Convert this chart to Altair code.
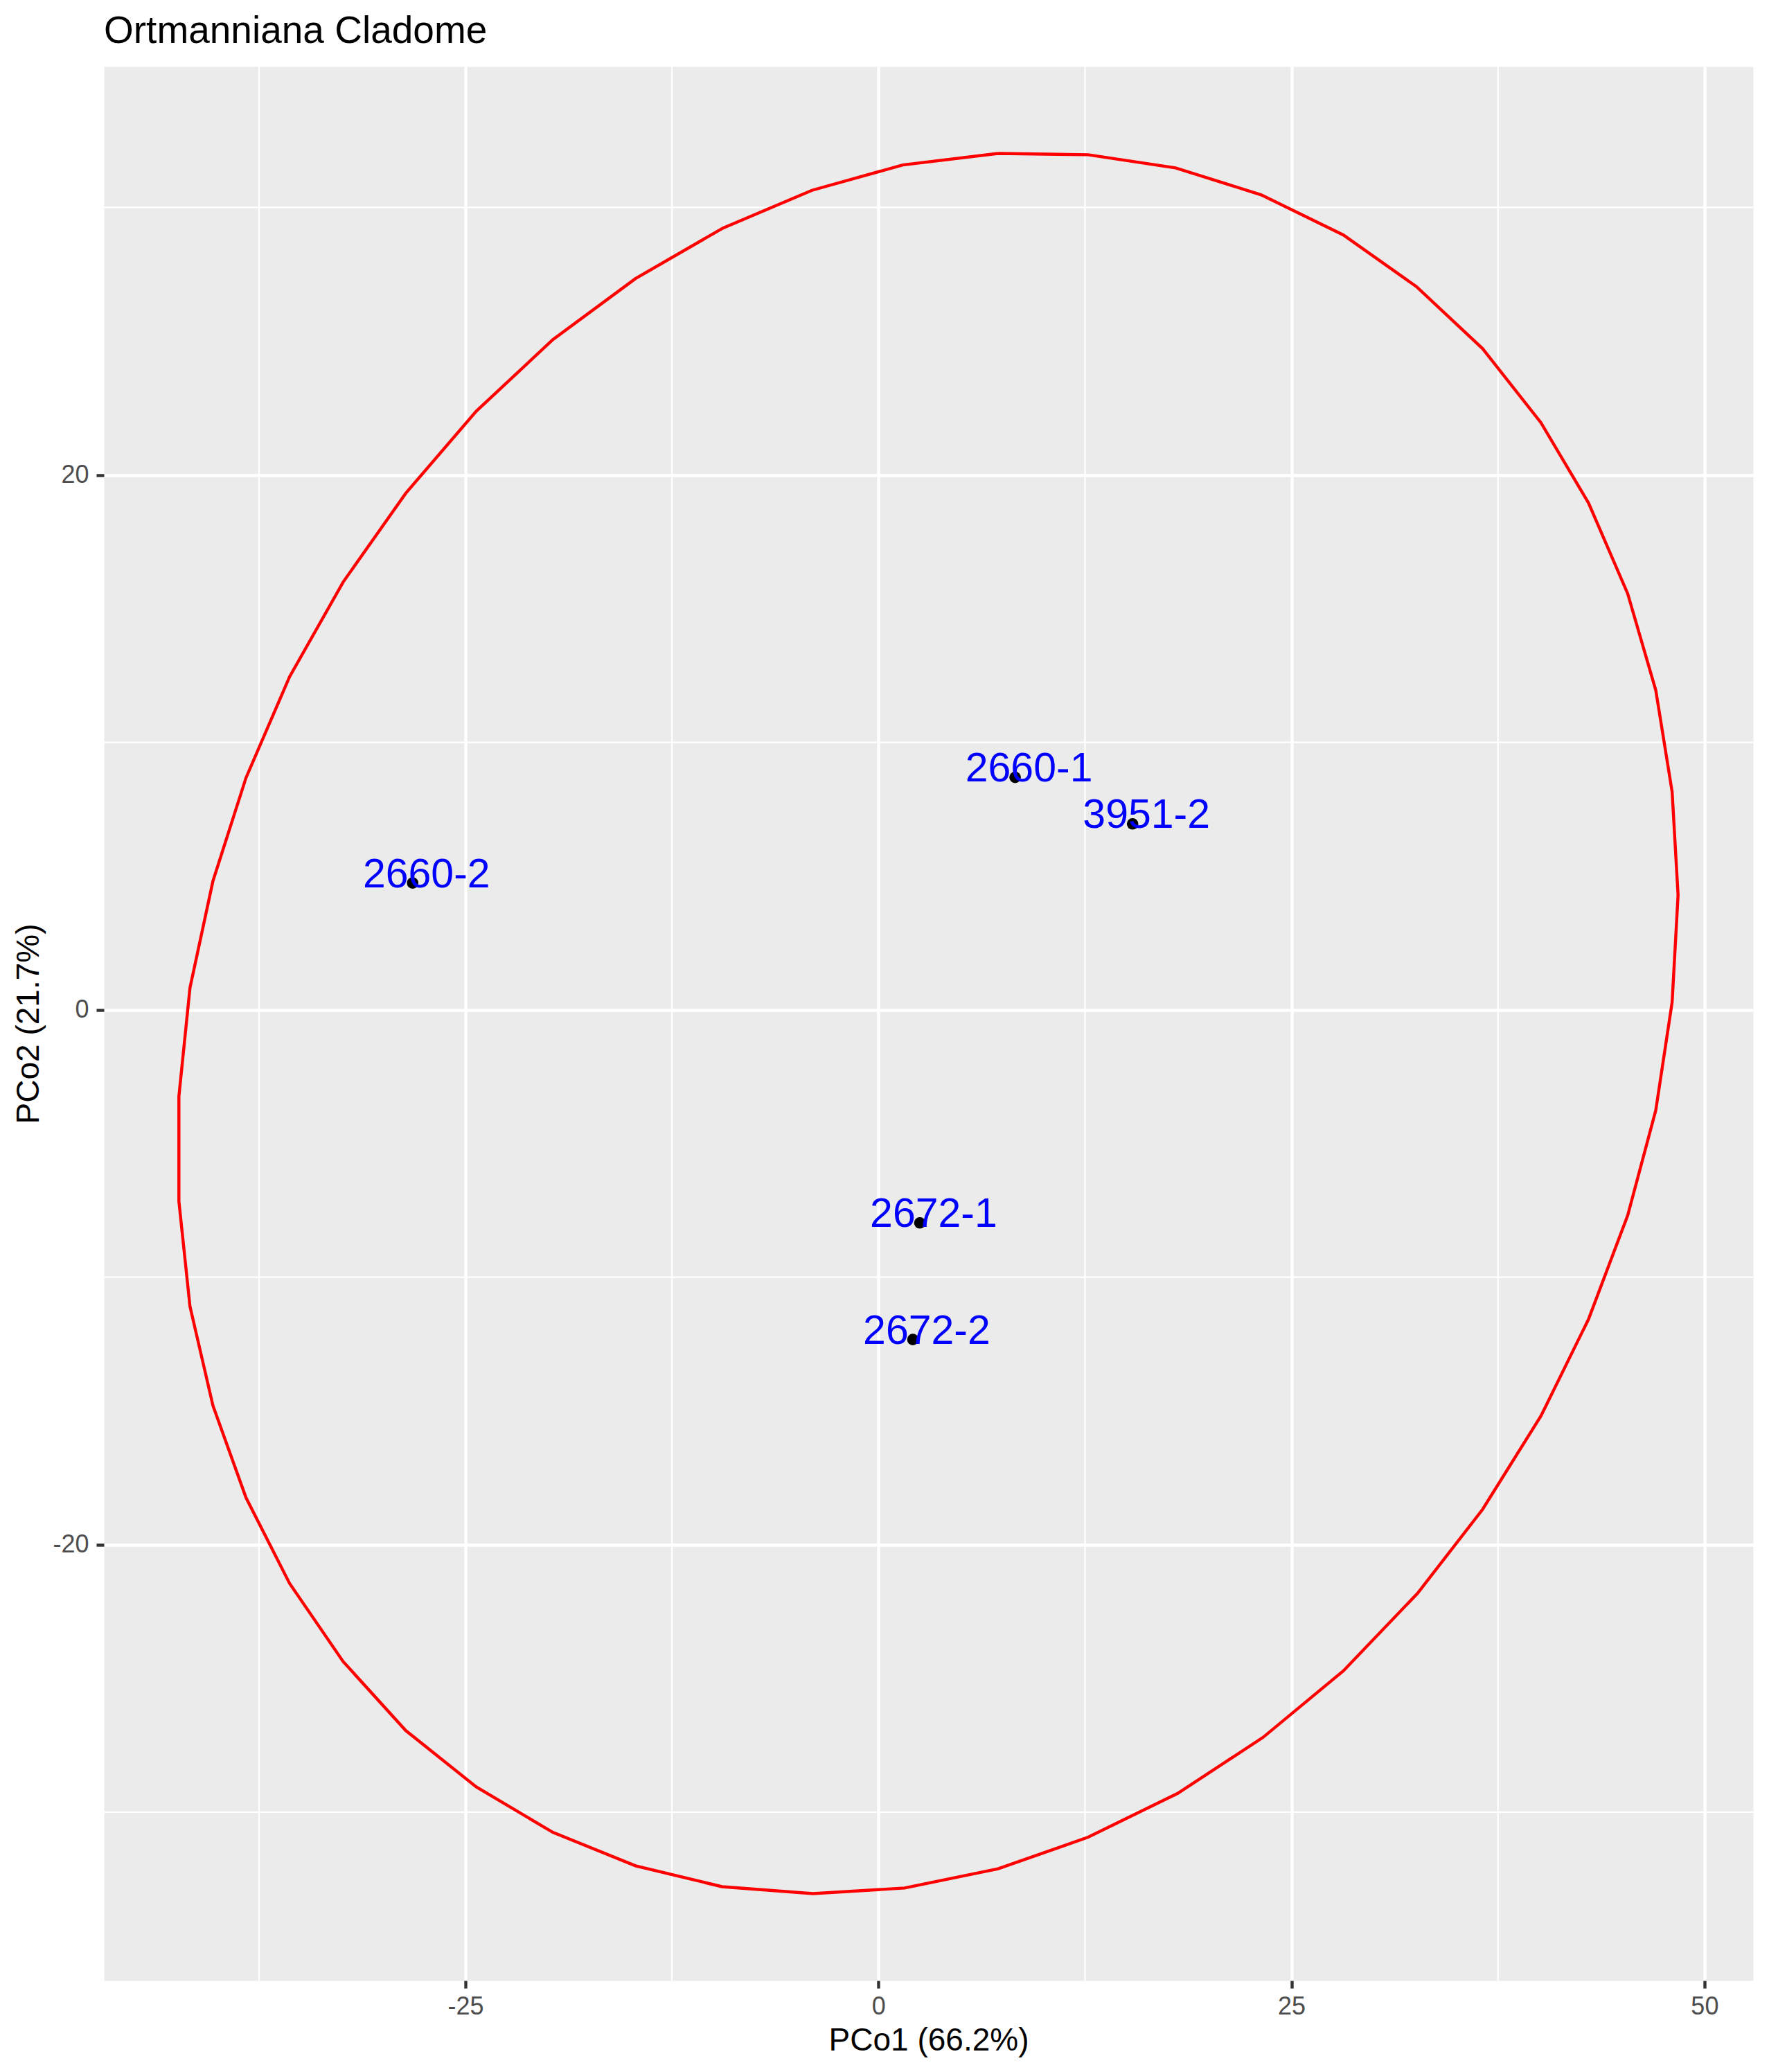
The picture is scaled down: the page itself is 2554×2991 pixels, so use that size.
import altair as alt
import pandas as pd

# Ellipse vertices
ell_x = [7.24, 12.69, 17.98, 23.17, 28.14, 32.56, 36.57, 40.10, 42.98, 45.35,
         47.05, 48.04, 48.40, 48.04, 47.05, 45.35, 42.98, 40.10, 36.57, 32.63,
         28.14, 23.27, 18.11, 12.69, 7.24, 1.58, -3.97, -9.47, -14.71, -19.71,
         -24.35, -28.62, -32.41, -35.65, -38.29, -40.29, -41.68, -42.35, -42.35, -41.68,
         -40.29, -38.29, -35.65, -32.41, -28.62, -24.35, -19.71, -14.71, -9.41, -4.03,
         1.47, 7.24]
ell_y = [32.02, 31.97, 31.48, 30.47, 28.97, 27.04, 24.72, 21.95, 18.95, 15.56,
         11.95, 8.15, 4.29, 0.28, -3.76, -7.69, -11.57, -15.19, -18.68, -21.82,
         -24.72, -27.21, -29.30, -30.94, -32.12, -32.84, -33.05, -32.79, -32.01, -30.76,
         -29.06, -26.95, -24.37, -21.45, -18.24, -14.80, -11.09, -7.16, -3.24, 0.815,
         4.81, 8.67, 12.45, 15.99, 19.31, 22.38, 25.06, 27.34, 29.23, 30.64,
         31.59, 32.02]

# Samples
pt_label = ["2660-1", "3951-2", "2660-2", "2672-1", "2672-2"]
pt_x = [8.27, 15.38, -28.20, 2.50, 2.08]
pt_y = [8.69, 6.95, 4.74, -7.97, -12.33]

# Axis breaks
x_major = [-25, 0, 25, 50]
x_minor = [-37.5, -12.5, 12.5, 37.5]
y_major = [-20, 0, 20]
y_minor = [-30, -10, 10, 30]

TITLE = "Ortmanniana Cladome"
X_DOMAIN = [-46.89, 52.94]
Y_DOMAIN = [-36.30, 35.27]

W, H = 2381, 2763
FONT = "Liberation Sans"

ell_df = pd.DataFrame({"i": list(range(len(ell_x))), "x": ell_x, "y": ell_y})
pt_df = pd.DataFrame({"label": pt_label, "x": pt_x, "y": pt_y})
xminor_df = pd.DataFrame({"x": x_minor})
yminor_df = pd.DataFrame({"y": y_minor})
title_df = pd.DataFrame({"t": [TITLE]})

xs = alt.Scale(domain=X_DOMAIN, nice=False, zero=False)
ys = alt.Scale(domain=Y_DOMAIN, nice=False, zero=False)

xaxis = alt.Axis(
    values=x_major, labelExpr="'' + datum.value", title="PCo1 (66.2%)",
    grid=True, gridColor="white", gridWidth=4.4, domain=False,
    tickColor="#333333", tickWidth=4.4, tickSize=11,
    labelColor="#4D4D4D", labelFontSize=36, labelFont=FONT,
    labelBaseline="alphabetic", labelPadding=37, labelFlush=False, labelOverlap=False,
    titleFontSize=46, titleFont=FONT, titleColor="black", titleFontWeight="normal",
    titleX=W / 2, titleY=100, titleBaseline="alphabetic", titleAlign="center",
)
yaxis = alt.Axis(
    values=y_major, labelExpr="'' + datum.value", title="PCo2 (21.7%)",
    grid=True, gridColor="white", gridWidth=4.4, domain=False,
    tickColor="#333333", tickWidth=4.4, tickSize=11,
    labelColor="#4D4D4D", labelFontSize=36, labelFont=FONT,
    labelPadding=11, labelFlush=False, labelOverlap=False,
    titleFontSize=46, titleFont=FONT, titleColor="black", titleFontWeight="normal",
    titleAngle=270, titleX=-95, titleY=H / 2, titleBaseline="alphabetic", titleAlign="center",
)

xenc = alt.X("x:Q", scale=xs, axis=xaxis)
yenc = alt.Y("y:Q", scale=ys, axis=yaxis)

vminor = alt.Chart(xminor_df).mark_rule(color="white", strokeWidth=2.2).encode(x=xenc)
hminor = alt.Chart(yminor_df).mark_rule(color="white", strokeWidth=2.2).encode(y=yenc)

ellipse = alt.Chart(ell_df).mark_line(color="#FF0000", strokeWidth=4.4).encode(
    x=xenc, y=yenc, order="i:Q"
)
points = alt.Chart(pt_df).mark_circle(color="black", size=275, opacity=1).encode(x=xenc, y=yenc)
labels = alt.Chart(pt_df).mark_text(
    font=FONT, fontSize=59, color="#0000FF", align="center", baseline="alphabetic", dx=20, dy=6
).encode(x=xenc, y=yenc, text="label:N")

title = alt.Chart(title_df).mark_text(
    font=FONT, fontSize=55, color="black", align="left", baseline="alphabetic"
).encode(x=alt.value(0), y=alt.value(-34), text="t:N")

chart = alt.layer(vminor, hminor, ellipse, points, labels, title).properties(
    width=W, height=H,
    autosize=alt.AutoSizeParams(type="none"),
    padding={"left": 142, "top": 88, "right": 15, "bottom": 128},
).configure(
    background="white",
    view=alt.ViewConfig(fill="#EBEBEB", stroke="transparent"),
)

chart.save("out.html", embed_options={"renderer": "svg", "actions": False})
